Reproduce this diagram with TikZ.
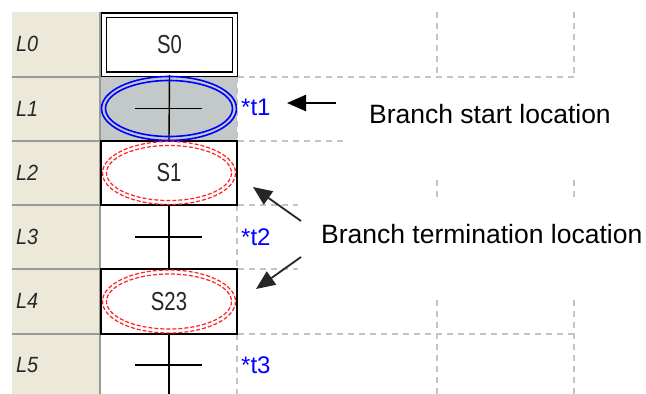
\documentclass[tikz,border=0pt]{standalone}
\usepackage{fontspec}
\setmainfont{Liberation Sans}
\newfontfamily\condfont[FakeStretch=0.78]{Liberation Sans}
\newfontfamily\lblfont[FakeStretch=0.9]{Liberation Sans}
\usetikzlibrary{arrows.meta}
\definecolor{beige}{HTML}{ECE9D8}
\definecolor{selgray}{HTML}{C3C8C8}
\definecolor{gridgray}{HTML}{C4C4C4}
\definecolor{sepgray}{HTML}{9A9A9A}
\definecolor{tblue}{HTML}{0000FF}
\definecolor{sred}{HTML}{FF2020}
\begin{document}
\begin{tikzpicture}[x=1pt,y=-1pt,
  rowlbl/.style={anchor=west, inner sep=0pt, font=\lblfont\itshape\fontsize{22}{22}\selectfont, text=black!85},
  stepbox/.style={draw=black, line width=1.4pt, fill=white, inner sep=0pt, minimum width=136pt, minimum height=64pt, font=\condfont\fontsize{26}{26}\selectfont, text=black!85},
  dblbox/.style={stepbox, double=white, double distance=3.2pt, line width=1.4pt, minimum width=131pt, minimum height=59pt},
  steptext/.style={font=\condfont\fontsize{26}{26}\selectfont, text=black!85},
  tlabel/.style={anchor=west, inner sep=0pt, font=\fontsize{24}{24}\selectfont, text=tblue},
  annot/.style={anchor=base west, inner sep=0pt, font=\fontsize{26.5}{26.5}\selectfont, text=black},
  gridline/.style={draw=gridgray, line width=1.3pt, dash pattern=on 6pt off 5pt},
  redell/.style={draw=sred, line width=1.2pt, dash pattern=on 4pt off 2pt},
  blueell/.style={draw=tblue, line width=1.6pt},
  trunk/.style={draw=black, line width=1.4pt},
  arr/.style={draw=black, line width=2.2pt, -{Triangle[length=19pt,width=16pt]}},
  darr/.style={draw=black!85, line width=1.8pt, -{Triangle[length=19pt,width=16pt]}}
]
\useasboundingbox (0,0) rectangle (646,394);
\fill[white] (0,0) rectangle (646,394);
% label column
\fill[beige] (12,12) rectangle (100,394);
\foreach \y in {77,141,205,269,334} \draw[sepgray, line width=1.2pt] (12,\y) -- (100,\y);
\draw[sepgray, line width=1.2pt] (100,12) -- (100,394);
% selected transition cell
\fill[selgray] (100.6,77) rectangle (237,141);
% grid lines
\draw[gridline] (238,77) -- (574,77);
\draw[gridline] (238,141) -- (347,141);
\draw[gridline] (238,205) -- (298,205);
\draw[gridline] (238,269) -- (298,269);
\draw[gridline] (238,334) -- (574,334);
\draw[gridline] (237,77) -- (237,141);
\draw[gridline] (237,205) -- (237,269);
\draw[gridline] (237,334) -- (237,394);
\foreach \x in {437,574} {
  \draw[gridline] (\x,12) -- (\x,77);
  \draw[gridline] (\x,180) -- (\x,198);
  \draw[gridline] (\x,300) -- (\x,394);
}
% row labels
\node[rowlbl] (l0) at (16,44) {L0};
\node[rowlbl] (l1) at (16,109) {L1};
\node[rowlbl] (l2) at (16,173) {L2};
\node[rowlbl] (l3) at (16,237) {L3};
\node[rowlbl] (l4) at (16,301) {L4};
\node[rowlbl] (l5) at (16,365) {L5};
% steps
\node[dblbox] (s0) at (169.5,44.7) {S0};
\node[stepbox] (s1) at (169,173) {};
\node[stepbox, minimum height=65pt] (s23) at (169,301.5) {};
\coordinate (tr1) at (169,108.5);
\coordinate (tr2) at (169,237);
\coordinate (tr3) at (169,365);
\coordinate (bot) at (169,394);
% trunk
\draw[trunk] (s0.south) -- (s1.north);
\draw[trunk] (s1.south) -- (s23.north);
\draw[trunk] (s23.south) -- (bot);
% transition ticks
\foreach \t in {tr1,tr2,tr3} \draw[trunk] ([xshift=-34pt]\t) -- ([xshift=33pt]\t);
% blue double ellipse (branch start)
\draw[blueell] (tr1) ellipse [x radius=67.5, y radius=32];
\draw[blueell] (tr1) ellipse [x radius=63.5, y radius=28];
% red dashed ellipses (branch ends)
\draw[redell] (s1.center) ellipse [x radius=66.5, y radius=31.5];
\draw[redell] (s1.center) ellipse [x radius=62.5, y radius=27.5];
\draw[redell] (s23.center) ellipse [x radius=66.5, y radius=31.5];
\draw[redell] (s23.center) ellipse [x radius=62.5, y radius=27.5];
\node[steptext] (s1t) at (s1.center) {S1};
\node[steptext] (s23t) at (s23.center) {S23};
% transition labels
\node[tlabel] (t1) at (241,107) {*t1};
\node[tlabel] (t2) at (241,237) {*t2};
\node[tlabel] (t3) at (241,365) {*t3};
% annotations
\node[annot] (bs) at (369,123.5) {Branch start location};
\node[annot] (bt) at (321,243) {Branch termination location};
\coordinate (a1tail) at (336,103);
\coordinate (a1tip) at (287,103);
\coordinate (a2tail) at (301,221);
\coordinate (a2tip) at (253,187);
\coordinate (a3tail) at (301,257);
\coordinate (a3tip) at (256,289);
\draw[arr] (a1tail) -- (a1tip);
\draw[darr] (a2tail) -- (a2tip);
\draw[darr] (a3tail) -- (a3tip);
\end{tikzpicture}
\end{document}
